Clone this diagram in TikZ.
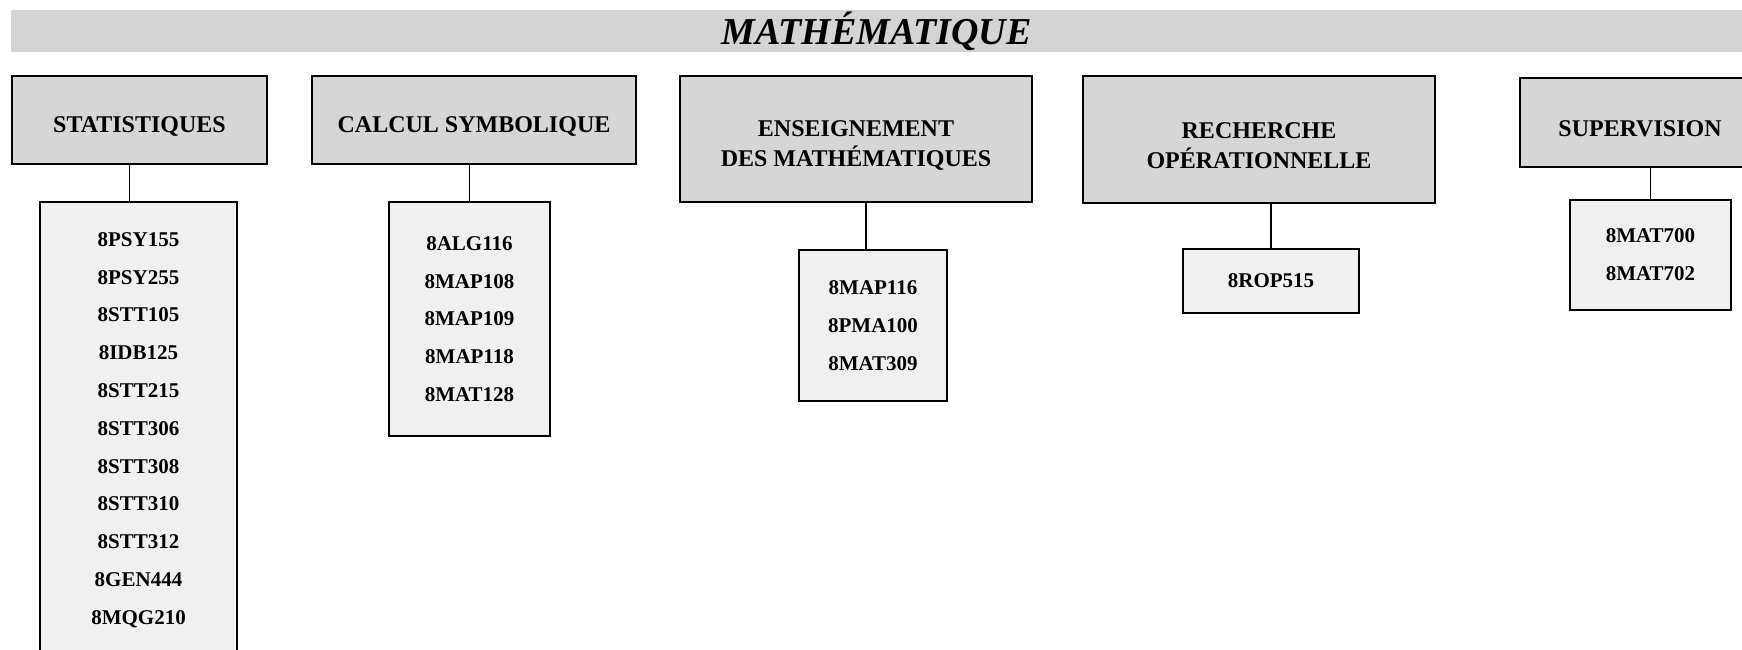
\documentclass[tikz,border=0pt]{standalone}
\usepackage{fontspec}
\setmainfont{Liberation Serif}
\usetikzlibrary{positioning}
\usepackage{xcolor}

\definecolor{bargray}{RGB}{212,212,212}
\definecolor{headgray}{RGB}{214,214,214}
\definecolor{listgray}{RGB}{240,240,240}

\tikzset{
  headbox/.style={draw, line width=1pt, fill=headgray, inner sep=0pt},
  headtext/.style={align=center, inner sep=0pt, yshift=-3.25pt,
    font=\fontsize{12}{15}\selectfont\bfseries},
  codebox/.style={draw, line width=1pt, fill=listgray, align=center, inner sep=0pt,
    font=\fontsize{10.5}{18.9}\selectfont\bfseries},
  link/.style={line width=0.75pt}
}

\begin{document}
\begin{tikzpicture}[x=0.5pt, y=-0.5pt] % "MATHEMATIQUE" chart

\clip (0,0) rectangle (1742,649);
\fill[white] (0,0) rectangle (1742,649);

%title bar
\node[fill=bargray, minimum width=865.5pt, minimum height=21pt, inner sep=0pt,
  font=\fontsize{19}{20}\selectfont\bfseries\itshape] (title) at (876.5,31) {MATHÉMATIQUE};

%fields
\node[headbox, minimum width=127.5pt, minimum height=44pt] (stats) at (139.5,120) {};
\node[headbox, minimum width=162pt, minimum height=44pt] (calcul) at (474,120) {};
\node[headbox, minimum width=176pt, minimum height=63pt] (enseign) at (856,139) {};
\node[headbox, minimum width=176pt, minimum height=63.5pt] (recherche) at (1259,139.5) {};
\node[headbox, minimum width=120pt, minimum height=44.5pt] (superv) at (1640,122.5) {};

\node[headtext] (statst) at (stats) {STATISTIQUES};
\node[headtext] (calcult) at (calcul) {CALCUL SYMBOLIQUE};
\node[headtext] (enseignt) at (enseign) {ENSEIGNEMENT\\DES MATHÉMATIQUES};
\node[headtext] (recherchet) at (recherche) {RECHERCHE\\OPÉRATIONNELLE};
\node[headtext] (supervt) at (superv) {SUPERVISION};

%course lists
\node[codebox, minimum width=98.5pt, minimum height=228pt] (statsc) at (138.5,430)
  {8PSY155\\8PSY255\\8STT105\\8IDB125\\8STT215\\8STT306\\8STT308\\8STT310\\8STT312\\8GEN444\\8MQG210};
\node[codebox, minimum width=80.5pt, minimum height=117pt] (calculc) at (469.5,319)
  {8ALG116\\8MAP108\\8MAP109\\8MAP118\\8MAT128};
\node[codebox, minimum width=74pt, minimum height=75.5pt] (enseignc) at (873,325.5)
  {8MAP116\\8PMA100\\8MAT309};
\node[codebox, minimum width=88pt, minimum height=32pt] (recherchec) at (1271,281) {8ROP515};
\node[codebox, minimum width=80.5pt, minimum height=55pt] (supervc) at (1650.5,255)
  {8MAT700\\8MAT702};

%links
\draw[link] ([xshift=-4.5pt]statsc.north) -- ([xshift=-4.5pt]statsc.north |- stats.south);
\draw[link] (calculc.north) -- (calculc.north |- calcul.south);
\draw[link] ([xshift=-3.5pt]enseignc.north) -- ([xshift=-3.5pt]enseignc.north |- enseign.south);
\draw[link] (recherchec.north) -- (recherchec.north |- recherche.south);
\draw[link] (supervc.north) -- (supervc.north |- superv.south);

\end{tikzpicture}
\end{document}
